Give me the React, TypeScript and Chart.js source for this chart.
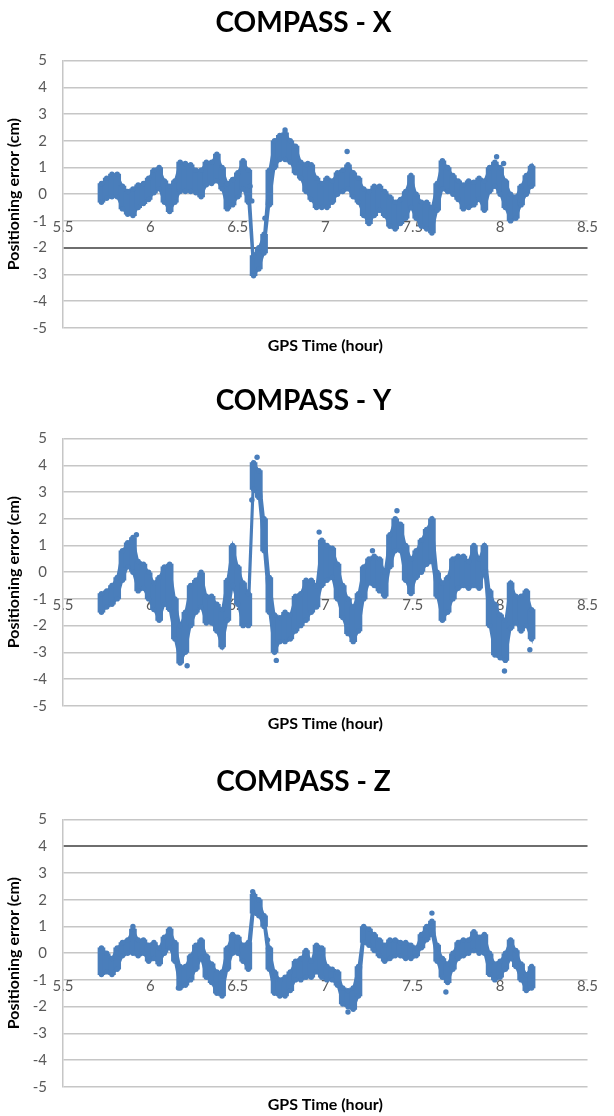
import React, { useEffect, useRef } from 'react';
import { Chart, registerables } from 'chart.js';

Chart.register(...registerables);

// GPS time grid (hour)
const TIMES = [
  5.72, 5.75, 5.78, 5.81, 5.84, 5.87, 5.9, 5.93, 5.96, 5.99,
  6.02, 6.05, 6.08, 6.11, 6.14, 6.17, 6.2, 6.23, 6.26, 6.29,
  6.32, 6.35, 6.38, 6.41, 6.44, 6.47, 6.5, 6.53, 6.56, 6.59,
  6.62, 6.65, 6.68, 6.71, 6.74, 6.77, 6.8, 6.83, 6.86, 6.89,
  6.92, 6.95, 6.98, 7.01, 7.04, 7.07, 7.1, 7.13, 7.16, 7.19,
  7.22, 7.25, 7.28, 7.31, 7.34, 7.37, 7.4, 7.43, 7.46, 7.49,
  7.52, 7.55, 7.58, 7.61, 7.64, 7.67, 7.7, 7.73, 7.76, 7.79,
  7.82, 7.85, 7.88, 7.91, 7.94, 7.97, 8.0, 8.03, 8.06, 8.09,
  8.12, 8.15, 8.18,
];

// COMPASS - X : upper / lower edge of the error cloud (cm)
const X_HI = [
  0.4, 0.6, 0.75, 0.75, 0.3, 0.1, 0.2, 0.35, 0.4, 0.6,
  0.9, 1.0, 0.5, 0.3, 0.5, 1.2, 1.15, 1.1, 0.9, 0.9,
  1.2, 1.2, 1.5, 1.0, 0.4, 0.55, 0.8, 1.25, 0.9, -2.3,
  -2.0, -1.5, 0.9, 2.0, 2.2, 2.3, 2.0, 1.8, 1.2, 1.1,
  1.1, 0.6, 0.4, 0.6, 0.5, 0.8, 0.9, 1.1, 0.8, 0.6,
  0.2, 0.1, 0.3, 0.3, 0.1, -0.1, -0.3, -0.2, 0.1, 0.7,
  0.0, -0.3, -0.3, -0.5, 0.4, 1.25, 1.0, 0.7, 0.5, 0.35,
  0.5, 0.45, 0.6, 0.5, 1.0, 1.2, 1.0, 0.5, 0.0, -0.1,
  0.3, 0.7, 1.05,
];
const X_LO = [
  -0.3, -0.15, -0.1, -0.1, -0.55, -0.75, -0.8, -0.5, -0.35, -0.2,
  0.05, 0.2, -0.3, -0.65, -0.3, 0.1, 0.1, 0.1, 0.05, -0.1,
  0.35, 0.4, 0.5, 0.2, -0.55, -0.4, -0.1, 0.2, -0.3, -3.05,
  -2.8, -2.2, -0.4, 1.0, 1.3, 1.3, 1.2, 0.8, 0.6, 0.1,
  -0.2, -0.5, -0.5, -0.5, -0.3, 0.0, 0.1, 0.2, -0.1, -0.3,
  -0.8, -1.1, -0.8, -0.6, -0.8, -1.2, -1.3, -1.1, -0.9, -0.5,
  -0.9, -1.2, -1.3, -1.45, -0.6, 0.2, 0.1, 0.0, -0.2, -0.55,
  -0.5, -0.4, -0.2, -0.6, 0.1, 0.3, 0.0, -0.5, -1.0, -0.9,
  -0.4, 0.0, 0.3,
];
const X_OUT_T = [6.655, 7.125, 6.77, 7.98, 8.02, 6.9, 6.58, 6.57];
const X_OUT_V = [-0.9, 1.6, 2.4, 1.4, 1.15, 1.15, -0.25, 0.3];

// COMPASS - Y
const Y_HI = [
  -0.8, -0.7, -0.5, -0.2, 0.8, 1.1, 1.3, 0.4, 0.3, 0.0,
  -0.4, -0.2, 0.2, 0.3, -1.0, -2.0, -1.5, -0.5, -0.3, 0.0,
  -0.9, -0.9, -1.2, -1.4, -0.3, 1.0, 0.2, -0.4, -0.8, 4.1,
  3.8, 2.0, -0.2, -1.6, -1.7, -1.5, -1.6, -0.9, -0.8, -0.3,
  -0.3, -0.5, 1.2, 1.0, 0.9, 0.3, -0.5, -1.0, -1.3, -0.8,
  0.2, 0.5, 0.6, 0.5, 0.0, 1.4, 2.0, 1.8, 1.0, 0.5,
  0.8, 1.2, 1.6, 2.0, 0.0, -0.4, -0.2, 0.5, 0.6, 0.6,
  0.4, 1.0, 0.5, 1.0, -0.7, -1.2, -1.6, -1.8, -0.4, -0.9,
  -0.9, -0.7, -1.4,
];
const Y_LO = [
  -1.5, -1.3, -1.2, -1.0, -0.3, 0.2, 0.0, -0.7, -0.6, -1.0,
  -1.4, -1.8, -1.2, -1.4, -2.5, -3.4, -3.0, -2.0, -1.5, -1.3,
  -1.9, -1.9, -2.2, -2.8, -1.8, -0.5, -1.2, -2.0, -2.0, 3.1,
  2.8, 0.8, -1.5, -3.0, -2.6, -2.6, -2.5, -2.2, -2.0, -1.8,
  -1.5, -1.3, -0.5, -0.3, -0.2, -1.0, -1.7, -2.3, -2.6, -2.2,
  -1.0, -0.4, -0.5, -0.7, -0.9, 0.2, 0.8, 0.8, -0.3, -0.8,
  -0.2, 0.0, 0.3, 0.4, -0.9, -1.8, -1.5, -1.0, -0.6, -0.5,
  -0.6, -0.5, -0.6, 0.0, -2.0, -3.1, -3.2, -3.3, -2.1, -1.9,
  -2.2, -2.0, -2.5,
];
const Y_OUT_T = [6.61, 6.58, 6.72, 8.025, 5.92, 7.41, 7.27, 6.965, 8.17, 6.21];
const Y_OUT_V = [4.3, 2.7, -3.3, -3.7, 1.4, 2.3, 0.8, 1.5, -2.9, -3.5];

// COMPASS - Z
const Z_HI = [
  0.2, 0.0, -0.2, 0.2, 0.4, 0.5, 0.9, 0.5, 0.5, 0.3,
  0.4, 0.2, 0.6, 0.9, 0.4, -0.5, -0.5, -0.1, 0.3, 0.5,
  -0.1, -0.4, -0.7, -0.7, 0.2, 0.7, 0.6, 0.3, 0.4, 2.2,
  2.0, 1.4, 0.2, -0.7, -1.0, -0.9, -0.7, -0.3, -0.2, 0.1,
  -0.3, 0.3, 0.2, -0.5, -0.6, -0.7, -1.3, -1.4, -1.3, -0.5,
  1.0, 0.9, 0.7, 0.5, 0.3, 0.5, 0.5, 0.4, 0.4, 0.3,
  0.2, 0.7, 1.0, 1.2, 0.3, -0.2, -0.4, 0.0, 0.4, 0.5,
  0.5, 0.8, 0.6, 0.7, 0.0, -0.4, -0.3, 0.0, 0.5, 0.1,
  -0.4, -0.8, -0.5,
];
const Z_LO = [
  -0.8, -0.7, -0.8, -0.6, -0.1, 0.0, 0.0, -0.1, 0.0, -0.3,
  -0.2, -0.4, 0.0, 0.2, -0.3, -1.3, -1.2, -1.0, -0.6, -0.2,
  -0.9, -1.1, -1.5, -1.6, -0.6, 0.0, 0.0, -0.3, -0.6, 1.5,
  1.4, 1.0, -0.6, -1.5, -1.6, -1.6, -1.4, -1.0, -1.0, -0.9,
  -0.9, -0.7, -0.9, -1.0, -1.0, -1.2, -1.9, -2.0, -2.1, -1.6,
  0.4, 0.3, 0.1, -0.1, -0.3, -0.2, -0.1, -0.1, -0.2, -0.2,
  -0.1, 0.2, 0.5, 0.7, -0.3, -0.9, -1.1, -0.6, -0.2, -0.1,
  0.0, 0.1, 0.0, 0.0, -0.8, -1.0, -0.9, -0.6, -0.2, -0.5,
  -1.0, -1.4, -1.3,
];
const Z_OUT_T = [6.585, 6.67, 7.61, 7.69, 7.13, 5.9, 6.16];
const Z_OUT_V = [2.3, 0.5, 1.5, -1.45, -2.2, 1.0, -1.3];

const Y_TITLE = 'Positioning error (cm)';
const X_TITLE = 'GPS Time (hour)';

const BLUE = '#4a7ebb';
const CANVAS_H = 367;

Chart.defaults.font.family = 'Lato, "Open Sans", sans-serif';

type Props = {
  title: string;
  hi: number[];
  lo: number[];
  outT: number[];
  outV: number[];
  darkLine: number | null;
  top: number;
};

function CompassChart({ title, hi, lo, outT, outV, darkLine, top }: Props) {
  const ref = useRef<HTMLCanvasElement | null>(null);
  useEffect(() => {
    if (!ref.current) return;
    const upper = TIMES.map((t, i) => ({ x: t, y: hi[i] }));
    const lower = TIMES.map((t, i) => ({ x: t, y: lo[i] }));
    const outline = [...upper, ...lower.slice().reverse()];
    const pointStyle = {
      pointRadius: 2.7,
      pointBackgroundColor: BLUE,
      pointBorderColor: BLUE,
      pointBorderWidth: 0,
      pointHoverRadius: 2.7,
      showLine: false,
    };
    const chart = new Chart(ref.current, {
      type: 'bar',
      data: {
        datasets: [
          {
            type: 'scatter',
            data: upper,
            ...pointStyle,
          },
          {
            type: 'scatter',
            data: lower,
            ...pointStyle,
          },
          {
            type: 'scatter',
            data: outT.map((t, i) => ({ x: t, y: outV[i] })),
            ...pointStyle,
          },
          {
            type: 'bar',
            // vertical extent of the dense cloud at each time
            data: TIMES.map((t, i) => ({ x: t, y: [lo[i], hi[i]] })),
            backgroundColor: BLUE,
            borderColor: BLUE,
            borderWidth: 0,
            barThickness: 7,
            grouped: false,
          },
          {
            type: 'line',
            // outline of the cloud (upper edge then lower edge back)
            data: outline,
            fill: 'shape',
            backgroundColor: BLUE,
            borderColor: BLUE,
            borderWidth: 2,
            tension: 0,
            pointRadius: 0,
            pointHoverRadius: 0,
          },
        ],
      },
      options: {
        responsive: false,
        animation: false,
        events: [],
        layout: { padding: { left: 4, right: 11, top: 0, bottom: 0 } },
        plugins: {
          legend: { display: false },
          tooltip: { enabled: false },
          title: {
            display: true,
            text: title,
            color: '#000',
            font: { size: 28, weight: 'bold' },
            padding: { top: 6, bottom: 21 },
          },
        },
        scales: {
          x: {
            type: 'linear',
            position: { y: 0 },
            offset: false,
            min: 5.5,
            max: 8.5,
            grid: { display: false, offset: false },
            border: { display: false },
            ticks: {
              stepSize: 0.5,
              color: '#595959',
              font: { size: 15 },
              padding: 16,
              maxRotation: 0,
              callback: (v: any) => String(v),
            },
          },
          x2: {
            type: 'linear',
            position: 'bottom',
            offset: false,
            min: 5.5,
            max: 8.5,
            grid: { display: false },
            border: { display: false },
            ticks: { display: false },
            title: {
              display: true,
              text: X_TITLE,
              color: '#000',
              font: { size: 16, weight: 'bold' },
              padding: { top: 0, bottom: 12 },
            },
          },
          y: {
            min: -5,
            max: 5,
            afterFit: (scale: any) => {
              scale.width = 59;
            },
            grid: {
              drawTicks: false,
              color: (ctx: any) =>
                ctx.tick && darkLine !== null && ctx.tick.value === darkLine ? '#6e6e6e' : '#c6c6c6',
              lineWidth: (ctx: any) =>
                ctx.tick && darkLine !== null && ctx.tick.value === darkLine ? 2 : 1.5,
            },
            border: { display: true, color: '#c6c6c6', width: 1.5 },
            ticks: {
              stepSize: 1,
              color: '#595959',
              font: { size: 15 },
              padding: 16,
            },
            title: {
              display: true,
              text: Y_TITLE,
              color: '#000',
              font: { size: 16, weight: 'bold' },
              padding: { top: 0, bottom: 0 },
            },
          },
        },
      },
    } as any);
    return () => chart.destroy();
  }, [title, hi, lo, outT, outV, darkLine]);
  return (
    <canvas
      ref={ref}
      width={614}
      height={CANVAS_H}
      style={{ position: 'absolute', left: 0, top, width: 614, height: CANVAS_H, display: 'block' }}
    />
  );
}

export default function App() {
  return (
    <div
      style={{
        position: 'absolute',
        left: 0,
        top: 0,
        width: 614,
        height: 1116,
        overflow: 'hidden',
        background: '#fff',
      }}
    >
      <CompassChart title="COMPASS - X" hi={X_HI} lo={X_LO} outT={X_OUT_T} outV={X_OUT_V} darkLine={-2} top={0} />
      <CompassChart title="COMPASS - Y" hi={Y_HI} lo={Y_LO} outT={Y_OUT_T} outV={Y_OUT_V} darkLine={null} top={378} />
      <CompassChart title="COMPASS - Z" hi={Z_HI} lo={Z_LO} outT={Z_OUT_T} outV={Z_OUT_V} darkLine={4} top={759} />
    </div>
  );
}
